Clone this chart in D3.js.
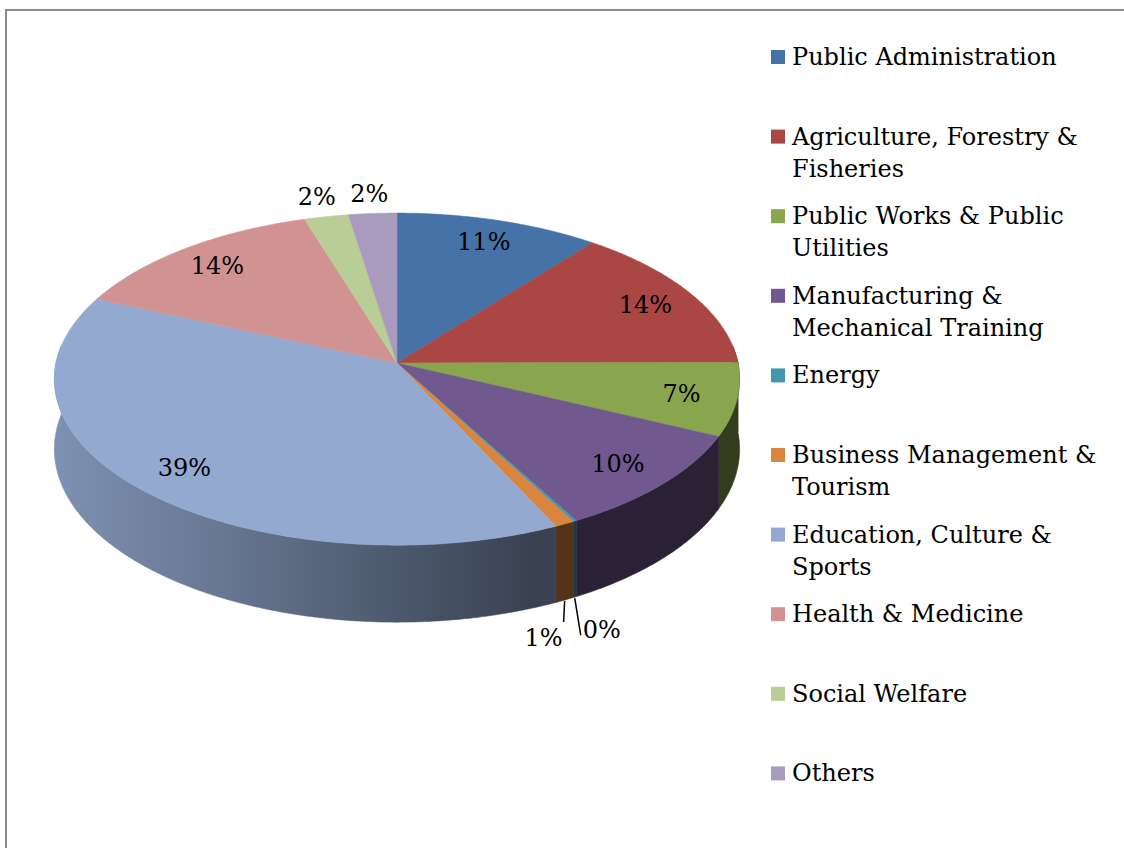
<!DOCTYPE html>
<html lang="en">
<head>
<meta charset="utf-8">
<title>3D pie</title>
<script src="https://cdn.jsdelivr.net/npm/d3@7"></script>
<style>
  body { margin: 0; background: #fff; }
  svg text { font-family: "DejaVu Serif", serif; fill: #000; }
</style>
</head>
<body>
<script>
// data (percent of total)
var categories = ["Public Administration", "Agriculture, Forestry & Fisheries", "Public Works & Public Utilities",
                  "Manufacturing & Mechanical Training", "Energy", "Business Management & Tourism",
                  "Education, Culture & Sports", "Health & Medicine", "Social Welfare", "Others"];
var values = [10.6, 14.4, 7.1, 10.0, 0.15, 0.85, 38.7, 13.6, 2.3, 2.5];
var colors = ["#4572a7", "#aa4643", "#89a54e", "#71588f", "#4198af",
              "#db843d", "#93a9cf", "#d19392", "#b9cd96", "#a99bbd"];

var w = 1124, h = 848;
var cx = 397, cy = 363;     // centre of the pie
var rx = 341, ry = 164.5;   // radius across / in depth
var persp = 0.097;          // far side drawn a little smaller
var depth = 69.5;           // thickness
var fontSize = 24;

var total = d3.sum(values);
var pctFmt = function(v) { return Math.round(v / total * 100) + "%"; };

// project an angle (clockwise from top) and radius onto the screen
function proj(a, r, drop) {
  var u = r * Math.sin(a), v = r * Math.cos(a);
  var k = 1 / (1 + persp * v);
  return [cx + rx * u * k, cy + (-ry * v + drop) * k];
}

// light falls from the left, walls get darker to the right
var shadeU = [-1, -0.5, 0, 0.4, 1];
var shade = d3.scaleLinear().domain(shadeU).range([0.86, 0.7, 0.52, 0.39, 0.37]).clamp(true);

var svg = d3.select("body").append("svg")
  .attr("width", w).attr("height", h);

svg.append("rect")
  .attr("x", 6).attr("y", 10)
  .attr("width", w + 10).attr("height", h + 10)
  .attr("fill", "none").attr("stroke", "#8c8c8c").attr("stroke-width", 2);

var pie = d3.pie().sort(null).startAngle(0).endAngle(2 * Math.PI);
var arcs = pie(values);

// one horizontal gradient per colour for the walls
var defs = svg.append("defs");
colors.forEach(function(col, i) {
  var g = defs.append("linearGradient").attr("id", "wall" + i)
    .attr("gradientUnits", "userSpaceOnUse")
    .attr("x1", cx - rx).attr("x2", cx + rx).attr("y1", 0).attr("y2", 0);
  shadeU.forEach(function(u) {
    var c = d3.rgb(col), f = shade(u);
    g.append("stop").attr("offset", (u + 1) / 2)
      .attr("stop-color", d3.rgb(c.r * f, c.g * f, c.b * f).toString());
  });
});

var step = Math.PI / 360;
var line = d3.line();
function arcPoints(a0, a1, drop) {
  var n = Math.max(2, Math.ceil((a1 - a0) / step));
  return d3.range(n + 1).map(function(j) { return proj(a0 + (a1 - a0) * j / n, 1, drop); });
}

// outer wall: only the front part shows
var lo = Math.PI * 84 / 180, hi = Math.PI * 276 / 180;
var walls = arcs.map(function(d, i) {
  return { i: i, a0: Math.max(d.startAngle, lo), a1: Math.min(d.endAngle, hi) };
}).filter(function(s) { return s.a1 > s.a0; });

svg.append("g").selectAll("path")
  .data(walls)
  .enter()
  .append("path")
  .attr("d", function(s) {
    var pts = arcPoints(s.a0, s.a1, 0).concat(arcPoints(s.a0, s.a1, depth).reverse());
    return line(pts) + "Z";
  })
  .attr("fill", function(s) { return "url(#wall" + s.i + ")"; })
  .attr("stroke", function(s) { return "url(#wall" + s.i + ")"; })
  .attr("stroke-width", 0.6);

// top faces
svg.append("g").selectAll("path")
  .data(arcs)
  .enter()
  .append("path")
  .attr("d", function(d) {
    return line([[cx, cy]].concat(arcPoints(d.startAngle, d.endAngle, 0))) + "Z";
  })
  .attr("fill", function(d, i) { return colors[i]; })
  .attr("stroke", function(d, i) { return colors[i]; })
  .attr("stroke-width", 0.5);

// data labels
var labels = svg.append("g").attr("font-size", fontSize);
var front = [];
arcs.forEach(function(d, i) {
  var m = (d.startAngle + d.endAngle) / 2;
  var share = d.value / total;
  if (share >= 0.05) {
    var p = proj(m, 0.84, 0);
    labels.append("text").attr("x", p[0]).attr("y", p[1]).attr("dy", "0.35em")
      .attr("text-anchor", "middle").text(pctFmt(d.value));
  } else if (Math.cos(m) > 0) {
    var q = proj(m, 1.15, 0);
    labels.append("text").attr("x", q[0]).attr("y", q[1]).attr("dy", "0.35em")
      .attr("text-anchor", "middle").text(pctFmt(d.value));
  } else {
    front.push({ d: d, m: m });
  }
});

// small slices at the front: labels hang below the wall, split left / right
front.sort(function(p, q) { return q.m - p.m; });
front.forEach(function(f, k) {
  var s = proj(f.m, 1, depth);
  var left = k % 2 === 0;
  var e = left ? [s[0] - 1, s[1] + 22] : [s[0] + 6, s[1] + 38];
  labels.append("path").attr("d", line([[s[0], s[1] + 1], e]))
    .attr("stroke", "#000").attr("stroke-width", 1.5).attr("fill", "none");
  labels.append("text")
    .attr("x", left ? e[0] - 1 : e[0] + 2)
    .attr("y", left ? e[1] + 24 : e[1] + 3)
    .attr("text-anchor", left ? "end" : "start")
    .text(pctFmt(f.d.value));
});

// legend
var legendX = 771, legendTop = 57, legendStep = 79.6, lineGap = 32, maxWidth = 318;
var legend = svg.append("g").attr("font-size", fontSize);
categories.forEach(function(name, i) {
  var y = legendTop + i * legendStep;
  legend.append("rect").attr("x", legendX).attr("y", y - 7)
    .attr("width", 14).attr("height", 14).attr("fill", colors[i]);
  var text = legend.append("text").attr("x", legendX + 21).attr("y", y + 8);
  var words = name.split(" "), cur = [];
  var tspan = text.append("tspan").attr("x", legendX + 21).attr("dy", 0);
  words.forEach(function(word) {
    cur.push(word);
    tspan.text(cur.join(" "));
    if (tspan.node().getComputedTextLength() > maxWidth && cur.length > 1) {
      cur.pop();
      tspan.text(cur.join(" "));
      cur = [word];
      tspan = text.append("tspan").attr("x", legendX + 21).attr("dy", lineGap).text(word);
    }
  });
});
</script>
</body>
</html>
